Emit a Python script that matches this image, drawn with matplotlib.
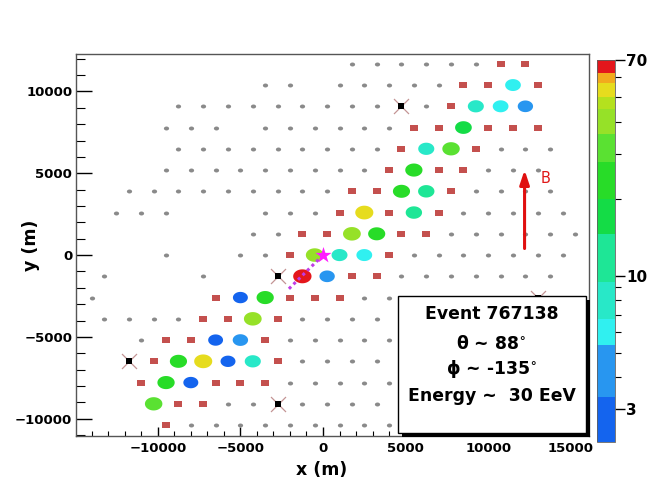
import numpy as np
import matplotlib
matplotlib.use("Agg")
import matplotlib.pyplot as plt
from matplotlib.colors import ListedColormap, LogNorm
from matplotlib.path import Path
from matplotlib.patches import Rectangle
from matplotlib.cm import ScalarMappable
import matplotlib.ticker as mticker

# ---------------- data (metres) ----------------
# untriggered stations, keyed by row y
gray_rows = {
    11691: [1750, 3250, 4750, 6250, 7750, 9250],
    10392: [-3500, -2000, 1000, 2500, 4000, 5500, 7000],
    9093: [-8750, -7250, -5750, -4250, -2750, -1250, 250, 1750, 3250, 6250],
    7794: [-9500, -8000, -6500, -3500, -2000, -500, 1000, 2500, 4000],
    6495: [-8750, -7250, -5750, -4250, -2750, -1250, 250, 1750, 3250, 10750, 12250, 13750],
    5196: [-9500, -8000, -6500, -5000, -3500, -2000, -500, 1000, 2500, 10000, 11500, 13000],
    3897: [-11750, -10250, -8750, -7250, -5750, -4250, -2750, -1250, 250, 9250, 10750, 12250, 13750],
    2598: [-12500, -11000, -9500, -3500, -2000, -500, 8500, 10000, 11500, 13000, 14500],
    1299: [-4250, -2750, 7750, 9250, 10750, 12250, 13750, 15250],
    0: [-9500, -5000, -3500, 5500, 7000, 8500, 10000, 11500, 13000, 14500],
    -1299: [-13250, -7250, 4750, 6250, 7750, 9250, 10750, 12250, 13750],
    -2598: [-14000, 2500, 4000],
    -3897: [-13250, -11750, -10250, -8750, -1250, 250, 1750, 3250],
    -5196: [-11000, -2000, -500, 1000, 2500, 4000],
    -6495: [-1250, 250, 1750, 3250],
    -7794: [-2000, -500, 1000, 2500, 4000],
    -9093: [-5750, -4250, -1250, 250, 1750, 3250],
    -10392: [-8000, -6500, -5000, -3500, -2000, -500, 1000, 2500, 4000],
}
# silent stations (red squares), keyed by row y
red_rows = {
    11691: [10750, 12250],
    10392: [8500, 10000, 13000],
    9093: [7750],
    7794: [5500, 7000, 10000, 11500, 13000],
    6495: [4750, 9250],
    5196: [4000, 7000, 8500],
    3897: [1750, 3250, 7750],
    2598: [1000, 4000, 7000],
    1299: [-1250, 250, 4750, 6250],
    0: [-2000, 4000],
    -1299: [1750, 3250],
    -2598: [-6500, -2000, -500, 1000],
    -3897: [-7250, -5750, -2750],
    -5196: [-9500, -8000, -3500],
    -6495: [-10250, -2750],
    -7794: [-11000, -6500, -5000, -3500],
    -9093: [-8750, -7250],
    -10392: [-9500],
}
# triggered stations with signal
hit_x = [11500, 9250, 10750, 12250, 8500, 6250, 7750, 5500, 4750, 6250, 2500, 5500,
         1750, 3250, -500, 1000, 2500, -1250, 250, -5000, -3500, -4250, -6500, -5000,
         -8750, -7250, -5750, -4250, -9500, -8000, -10250]
hit_y = [10392, 9093, 9093, 9093, 7794, 6495, 6495, 5196, 3897, 3897, 2598, 2598,
         1299, 1299, 0, 0, 0, -1299, -1299, -2598, -2598, -3897, -5196, -5196,
         -6495, -6495, -6495, -6495, -7794, -7794, -9093]
hit_signal = [6.0, 8.0, 6.2, 4.3, 15, 8.5, 29, 24, 22, 11, 53, 11,
              40, 22, 40, 7.5, 6.5, 66, 4.3, 3.0, 24, 38, 2.8, 4.5,
              23, 52, 3.0, 8.5, 25, 3.1, 30]
# bad stations
bad_x = [4750, -2750, -11750, -2750, 13000]
bad_y = [9093, -1299, -6495, -9093, -2598]
# shower core and axis projection
core_x, core_y = [0], [0]
axis_x = [0, -2100]
axis_y = [0, -2100]
# magnetic field arrow
b_x = [12200, 12200]
b_y = [400, 5200]
# palette bands (lower edges) and colours
band_edges = [2.23, 3.34, 5.33, 6.78, 9.45, 14.6, 20.0, 27.9, 35.9, 45.1, 50.1, 56.9, 62.4, 70.0]
band_colors = ['#1464ee', '#2896f0', '#30f0f0', '#28e8c8', '#1ee696', '#14dc46', '#28dc28',
               '#5ae132', '#96e128', '#b4e11e', '#e6dc1e', '#f2aa1e', '#e4161c']
cbar_ticks = [3, 10, 70]
legend_lines = ["Event 767138", r"$\mathrm{\theta}$ ~ 88$^{\circ}$",
                r"$\mathrm{\phi}$ ~ -135$^{\circ}$", "Energy ~  30 EeV"]

# ---------------- style ----------------
plt.rcParams['font.family'] = ['DejaVu Sans']
plt.rcParams['font.weight'] = 'bold'
plt.rcParams['mathtext.fontset'] = 'dejavusans'

W, H = 663, 484
fig = plt.figure(figsize=(W / 100, H / 100), dpi=100)
ax = fig.add_axes([76 / W, 1 - 436 / H, 513 / W, 382 / H])

vmin, vmax = band_edges[0], band_edges[-1]
samples = np.logspace(np.log10(vmin), np.log10(vmax), 760)
idx = np.clip(np.searchsorted(band_edges, samples, side='right') - 1, 0, len(band_colors) - 1)
cmap = ListedColormap([band_colors[i] for i in idx])
norm = LogNorm(vmin=vmin, vmax=vmax)

t = np.linspace(0, 2 * np.pi, 72)
ell = Path(np.column_stack([np.cos(t), 0.76 * np.sin(t)]), closed=True)
rect = Path([(-1, -0.82), (1, -0.82), (1, 0.82), (-1, 0.82), (-1, -0.82)], closed=True)

gx = [x for y, xs in gray_rows.items() for x in xs]
gy = [y for y, xs in gray_rows.items() for x in xs]
rx = [x for y, xs in red_rows.items() for x in xs]
ry = [y for y, xs in red_rows.items() for x in xs]

px = 0.72
ax.scatter(gx, gy, s=(5.2 * px) ** 2, marker=ell, c='#8a8a8a', linewidths=0, zorder=2)
ax.scatter(rx, ry, s=(8 * px) ** 2, marker=rect, c='#c4504e', linewidths=0, zorder=3)
ax.scatter(bad_x, bad_y, s=(15 * px) ** 2, marker='x', c='#c49494', linewidths=0.9, zorder=3)
ax.scatter(bad_x, bad_y, s=(5.5 * px) ** 2, marker='s', c='black', linewidths=0, zorder=3.5)

sig = np.array(hit_signal)
wpx = 14.5 + 1.1 * np.log(sig / 2.0)
ax.scatter(hit_x, hit_y, s=(wpx * px) ** 2, marker=ell, c=sig, cmap=cmap, norm=norm,
           linewidths=0, zorder=4)

ax.plot(axis_x, axis_y, color='#c03ce6', lw=2.2, ls=(0, (1, 1.1)), zorder=5)
ax.scatter(core_x, core_y, s=(17 * px) ** 2, marker='*', c='#ff1cff', linewidths=0, zorder=6)

ax.annotate('', xy=(b_x[1], b_y[1]), xytext=(b_x[0], b_y[0]),
            arrowprops=dict(arrowstyle='-|>,head_length=0.6,head_width=0.2', color='#e01010',
                            lw=2.2, mutation_scale=14, shrinkA=0, shrinkB=0), zorder=5)
ax.text(13450, 4700, 'B', color='#e01818', fontsize=10.5, fontweight='normal',
        ha='center', va='center', zorder=5)

ax.set_xlim(-14950, 16100)
ax.set_ylim(-11060, 12290)

ax.xaxis.set_major_locator(mticker.MultipleLocator(5000))
ax.xaxis.set_minor_locator(mticker.MultipleLocator(1000))
ax.yaxis.set_major_locator(mticker.MultipleLocator(5000))
ax.yaxis.set_minor_locator(mticker.MultipleLocator(1000))
ax.tick_params(axis='x', which='major', direction='in', length=6.5, width=1, top=False,
               pad=4.3, labelsize=9.5)
ax.tick_params(axis='x', which='minor', direction='in', length=3.4, width=0.8, top=False)
ax.tick_params(axis='y', which='major', direction='in', length=11.3, width=1, right=False,
               pad=2.7, labelsize=9.5)
ax.tick_params(axis='y', which='minor', direction='in', length=6.5, width=0.8, right=False)
for sp in ax.spines.values():
    sp.set_linewidth(1.0)
    sp.set_color('#555555')

ax.set_xlabel('x (m)', fontsize=12.5, fontweight='bold')
ax.set_ylabel('y (m)', fontsize=12.5, fontweight='bold')
ax.xaxis.set_label_coords(0.4795, -0.065)
ax.yaxis.set_label_coords(-0.070, 0.5)

# event info box with shadow
bx0, by0, bw, bh = 0.6283, 0.0086, 0.3653, 0.3579
ax.add_patch(Rectangle((bx0 + 0.0078, by0 - 0.0105), bw, bh, transform=ax.transAxes,
                       facecolor='black', edgecolor='black', lw=0, zorder=9, clip_on=False))
ax.add_patch(Rectangle((bx0, by0), bw, bh, transform=ax.transAxes,
                       facecolor='white', edgecolor='black', lw=1.0, zorder=10, clip_on=False))
for txt, yy in zip(legend_lines, [0.3055, 0.227, 0.1615, 0.0916]):
    ax.text(0.810, yy, txt, transform=ax.transAxes, ha='center', va='baseline',
            fontsize=12.4, fontweight='bold', zorder=11)

# colour bar
cax = fig.add_axes([597 / W, 1 - 442 / H, 18 / W, 382 / H])
sm = ScalarMappable(norm=norm, cmap=cmap)
cb = fig.colorbar(sm, cax=cax)
cb.outline.set_linewidth(0.6)
cb.outline.set_edgecolor('#606060')
cax.yaxis.set_major_locator(mticker.FixedLocator(cbar_ticks))
cax.yaxis.set_major_formatter(mticker.FixedFormatter([str(v) for v in cbar_ticks]))
cax.yaxis.set_minor_locator(mticker.FixedLocator([4, 5, 6, 7, 8, 9, 20, 30, 40, 50, 60]))
cax.yaxis.set_minor_formatter(mticker.NullFormatter())
cax.tick_params(which='major', direction='out', length=7, width=1, pad=1, labelsize=11)
cax.tick_params(which='minor', direction='out', length=4.5, width=0.8)

fig.savefig('out.png', dpi=100, facecolor='white')
